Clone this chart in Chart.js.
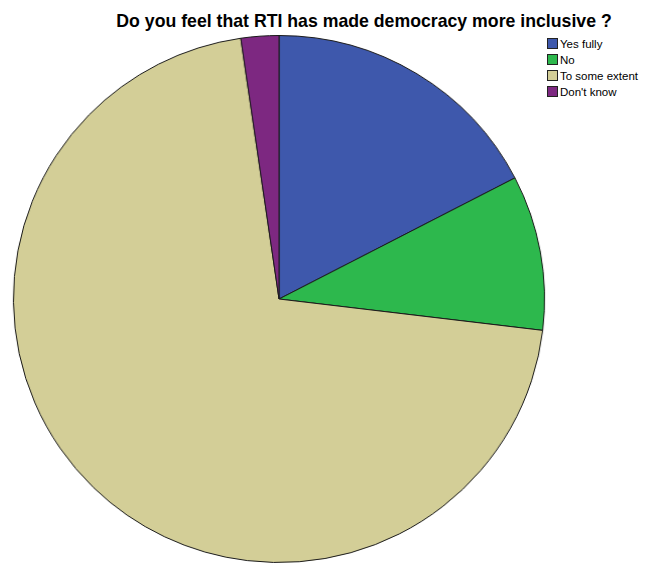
<!DOCTYPE html>
<html>
<head>
<meta charset="utf-8">
<script src="https://cdn.jsdelivr.net/npm/chart.js@4"></script>
<style>
  html, body { margin: 0; padding: 0; background: #fff; overflow: hidden; }
  body { width: 648px; height: 563px; position: relative; font-family: "Liberation Sans", Arial, sans-serif; }
  #title { position: absolute; top: 13px; left: 364px; transform: translateX(-50%); font-weight: bold; font-size: 17.7px; line-height: 1; color: #000; white-space: nowrap; }
  #wrap { position: absolute; left: 15px; top: 35px; width: 528px; height: 528px; transform: scaleX(1.008); transform-origin: 50% 50%; }
  #legend { position: absolute; left: 547px; top: 38px; font-size: 11.5px; color: #000; }
  #legend div { height: 16px; line-height: 13px; white-space: nowrap; }
  #legend span { display: inline-block; width: 9px; height: 9px; border: 1px solid #222; vertical-align: -1px; margin-right: 2px; }
</style>
</head>
<body>
<div id="title">Do you feel that RTI has made democracy more inclusive ?</div>
<div id="wrap"><canvas id="pie"></canvas></div>
<div id="legend"></div>
<script>
const categories = ['Yes fully', 'No', 'To some extent', "Don't know"];
const percents = [17.4, 9.5, 70.8, 2.3];
const colors = ['#3e58ac', '#2db84d', '#d3ce97', '#7d2881'];

const legendEl = document.getElementById('legend');
categories.forEach((c, i) => {
  const row = document.createElement('div');
  row.innerHTML = '<span style="background:' + colors[i] + '"></span>' + c;
  legendEl.appendChild(row);
});

new Chart(document.getElementById('pie').getContext('2d'), {
  type: 'pie',
  data: {
    labels: categories,
    datasets: [{
      data: percents,
      backgroundColor: colors,
      borderColor: '#1a1a1a',
      borderWidth: 1
    }]
  },
  options: {
    responsive: true,
    maintainAspectRatio: false,
    animation: false,
    layout: { padding: 0 },
    plugins: {
      legend: { display: false },
      title: { display: false },
      tooltip: { enabled: false }
    }
  }
});
</script>
</body>
</html>
